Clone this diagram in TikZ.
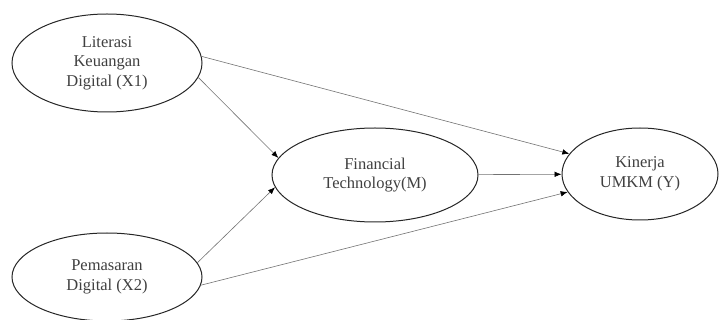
\documentclass[tikz,border=0pt]{standalone}
\usepackage{fontspec}
\setmainfont{Liberation Serif}
\usetikzlibrary{shapes.geometric,arrows.meta}
\begin{document}
\begin{tikzpicture}[x=1pt,y=-1pt,
  var/.style={ellipse,draw=black!85,line width=1pt,inner sep=0pt,
    font=\fontsize{16.5}{19.5}\selectfont,text=black!75,align=center},
  link/.style={draw=black!55,line width=0.6pt,-{Latex[length=7pt,width=5.5pt,black]}}]
\useasboundingbox (0,0) rectangle (721,320);
\node[var,minimum width=190pt,minimum height=98pt] (x1) at (107,63) {Literasi\\Keuangan\\Digital (X1)};
\node[var,minimum width=190pt,minimum height=88pt] (x2) at (107,277) {Pemasaran\\Digital (X2)};
\node[var,minimum width=206pt,minimum height=94pt] (m) at (375,175) {Financial\\Technology(M)};
\node[var,minimum width=156pt,minimum height=92pt] (y) at (640,174) {Kinerja\\UMKM (Y)};
\draw[link] (x1.-9) -- (m.170);
\draw[link] (x2.9) -- (m.187.5);
\draw[link] (x1.4) -- (y.164.7);
\draw[link] (x2.-5) -- (y.194);
\draw[link] (m) -- (y);
\end{tikzpicture}
\end{document}
